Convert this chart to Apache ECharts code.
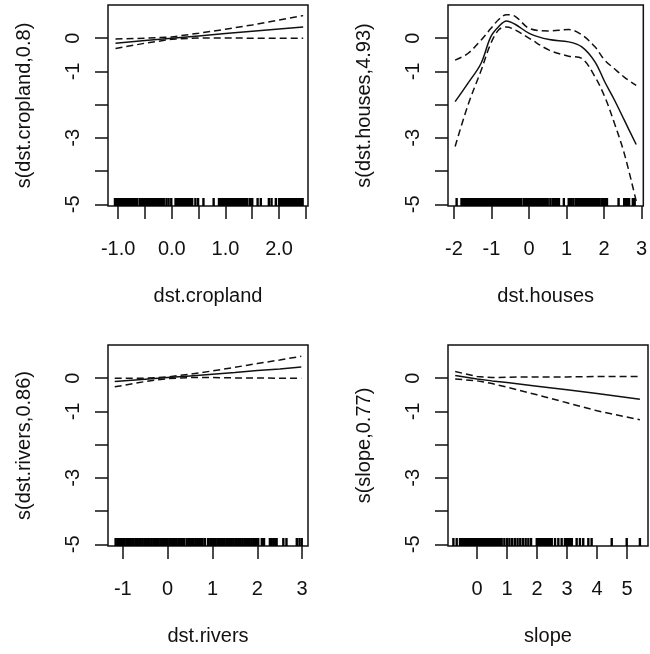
<!DOCTYPE html>
<html>
<head>
<meta charset="utf-8">
<script src="https://cdn.jsdelivr.net/npm/echarts@6/dist/echarts.min.js"></script>
<style>
  html, body { margin: 0; padding: 0; background: #fff; }
  #chart { width: 650px; height: 654px; }
</style>
</head>
<body>
<div id="chart"></div>
<script>
// Shared y scale of the smooth-term plots
const yMin = -5.05, yMax = 1.0;
const yTicks = [-5, -4, -3, -2, -1, 0];
const yTickLabels = [-5, -3, -1, 0];

// s(dst.cropland, 0.8)
const cropX     = [-1.05, -0.5, 0.0, 0.5, 1.0, 1.5, 2.0, 2.45];
const cropFit   = [-0.15, -0.07, 0.0, 0.07, 0.14, 0.21, 0.28, 0.34];
const cropUpper = [-0.02, 0.0, 0.04, 0.15, 0.27, 0.40, 0.55, 0.68];
const cropLower = [-0.31, -0.15, -0.03, 0.01, 0.01, 0.0, 0.0, 0.0];
const cropTicks = [-1.0, -0.5, 0.0, 0.5, 1.0, 1.5, 2.0, 2.5];
const cropTickLabels = [-1.0, 0.0, 1.0, 2.0];
const cropRug = [-1.06,-1.03,-1.00,-0.97,-0.94,-0.91,-0.88,-0.85,-0.82,-0.79,-0.76,-0.73,-0.70,-0.67,-0.64,
  -0.59,-0.56,-0.53,-0.50,-0.47,-0.44,-0.41,-0.38,-0.35,-0.32,-0.29,-0.26,-0.23,-0.20,-0.17,-0.15,
  -0.10,-0.06,-0.01,
  0.07,0.10,0.13,0.16,0.19,0.22,0.25,0.28,0.31,0.34,0.37,0.38,
  0.44,0.49,0.59,0.78,
  0.88,0.91,0.94,0.97,1.00,1.03,1.06,1.09,1.12,1.15,1.18,1.21,1.24,1.27,1.30,1.33,1.36,1.39,1.41,
  1.46,1.50,1.60,1.66,1.81,1.86,1.94,2.00,
  2.03,2.06,2.09,2.12,2.15,2.18,2.21,2.24,2.27,2.30,2.33,2.36,2.39,2.41,
  2.44];

// s(dst.houses, 4.93)
const housesX     = [-1.97, -1.63, -1.28, -1.02, -0.80, -0.60, -0.37, 0.02, 0.54, 1.06, 1.41, 1.76, 2.02, 2.28, 2.54, 2.86];
const housesFit   = [-1.91, -1.36, -0.76, 0.04, 0.36, 0.52, 0.42, 0.14, -0.04, -0.11, -0.26, -0.71, -1.31, -1.86, -2.46, -3.2];
const housesUpper = [-0.66, -0.46, -0.06, 0.29, 0.57, 0.71, 0.66, 0.29, 0.22, 0.26, 0.10, -0.26, -0.66, -0.92, -1.17, -1.42];
const housesLower = [-3.26, -2.02, -0.98, -0.16, 0.26, 0.34, 0.25, -0.01, -0.36, -0.54, -0.61, -1.16, -1.76, -2.56, -3.46, -4.9];
const housesTicks = [-2, -1, 0, 1, 2, 3];
const housesTickLabels = [-2, -1, 0, 1, 2, 3];
const housesRug = [-1.93,
  -1.80,-1.76,-1.72,-1.68,-1.64,-1.60,-1.56,-1.52,-1.48,-1.44,-1.40,-1.36,-1.32,-1.28,-1.24,-1.20,-1.16,-1.12,-1.08,-1.04,
  -1.00,-0.96,-0.92,-0.88,-0.84,-0.80,-0.76,-0.72,-0.68,-0.64,-0.60,-0.56,-0.52,-0.48,-0.44,-0.40,-0.36,-0.32,-0.28,-0.24,-0.20,
  -0.13,-0.09,-0.05,-0.01,0.03,0.07,0.11,0.15,0.19,0.23,0.27,0.31,0.35,0.39,0.43,0.47,0.50,
  0.57,0.63,0.67,0.71,0.75,0.80,0.93,1.06,1.10,1.14,1.19,
  1.26,1.30,1.34,1.38,1.42,1.46,1.50,1.54,1.58,1.62,1.66,1.70,1.74,1.78,1.82,1.87,
  1.93,1.97,2.01,2.05,2.08,
  2.39,2.54,2.58,2.62,2.67,2.77,2.82];

// s(dst.rivers, 0.86)
const riversX     = [-1.18, -0.5, 0.0, 0.5, 1.0, 1.5, 2.0, 2.5, 2.98];
const riversFit   = [-0.10, -0.03, 0.02, 0.07, 0.12, 0.17, 0.23, 0.28, 0.34];
const riversUpper = [0.0, 0.0, 0.04, 0.12, 0.22, 0.33, 0.44, 0.55, 0.66];
const riversLower = [-0.26, -0.10, -0.01, 0.02, 0.02, 0.01, 0.01, 0.0, 0.0];
const riversTicks = [-1, 0, 1, 2, 3];
const riversTickLabels = [-1, 0, 1, 2, 3];
const riversRug = [-1.16,-1.12,-1.08,-1.04,-1.00,-0.96,-0.92,-0.88,-0.84,-0.80,-0.76,-0.72,-0.68,-0.64,-0.60,-0.56,-0.52,
  -0.48,-0.44,-0.40,-0.36,-0.32,-0.28,-0.24,-0.20,-0.16,-0.12,-0.08,-0.04,0.00,0.04,0.08,0.12,0.16,0.20,0.24,0.28,0.32,0.36,
  0.42,0.46,
  0.50,0.54,0.58,0.62,0.66,0.70,0.74,0.78,0.83,
  0.90,
  0.95,0.99,1.03,1.07,1.11,1.15,1.19,1.23,1.27,1.31,1.35,1.39,1.43,1.47,1.51,1.55,1.59,1.63,1.67,1.71,1.75,1.79,1.83,1.87,1.91,1.95,1.99,2.02,
  2.10,2.15,
  2.28,2.32,2.36,2.40,2.43,
  2.58,2.65,2.88,2.94,2.99];

// s(slope, 0.77)
const slopeX     = [-0.73, 0.0, 0.5, 1.0, 2.0, 3.0, 4.0, 5.43];
const slopeFit   = [0.08, -0.02, -0.08, -0.13, -0.24, -0.35, -0.46, -0.63];
const slopeUpper = [0.20, 0.05, 0.02, 0.03, 0.04, 0.04, 0.05, 0.05];
const slopeLower = [-0.02, -0.08, -0.16, -0.27, -0.50, -0.74, -0.98, -1.25];
const slopeTicks = [0, 1, 2, 3, 4, 5];
const slopeTickLabels = [0, 1, 2, 3, 4, 5];
const slopeRug = [-0.79,-0.68,
  -0.57,-0.52,-0.47,-0.42,-0.37,-0.32,-0.27,-0.22,-0.17,-0.12,-0.07,-0.02,0.03,0.08,0.13,0.18,0.23,0.28,0.33,0.38,0.43,0.48,0.53,0.58,0.63,0.68,0.73,0.77,
  0.82,0.91,1.00,1.08,1.17,1.26,1.35,1.44,1.53,1.62,1.71,1.80,
  1.99,2.04,2.09,2.14,2.19,2.24,2.29,2.34,2.39,2.44,2.49,
  2.60,2.71,2.82,
  2.93,2.98,3.03,3.08,3.12,3.16,
  3.32,3.43,3.54,3.71,3.82,
  4.49,4.99,5.43];

const panels = [
  { xName: 'dst.cropland', yName: 's(dst.cropland,0.8)', xMin: -1.19, xMax: 2.54, digits: 1,
    x: cropX, fit: cropFit, upper: cropUpper, lower: cropLower, ticks: cropTicks, labels: cropTickLabels, rug: cropRug,
    grid: { left: 108, top: 5, width: 200, height: 201 } },
  { xName: 'dst.houses', yName: 's(dst.houses,4.93)', xMin: -2.16, xMax: 3.05, digits: 0, smooth: 0.35,
    x: housesX, fit: housesFit, upper: housesUpper, lower: housesLower, ticks: housesTicks, labels: housesTickLabels, rug: housesRug,
    grid: { left: 448, top: 5, width: 200, height: 201 } },
  { xName: 'dst.rivers', yName: 's(dst.rivers,0.86)', xMin: -1.33, xMax: 3.13, digits: 0,
    x: riversX, fit: riversFit, upper: riversUpper, lower: riversLower, ticks: riversTicks, labels: riversTickLabels, rug: riversRug,
    grid: { left: 108, top: 345, width: 200, height: 201 } },
  { xName: 'slope', yName: 's(slope,0.77)', xMin: -0.97, xMax: 5.7, digits: 0,
    x: slopeX, fit: slopeFit, upper: slopeUpper, lower: slopeLower, ticks: slopeTicks, labels: slopeTickLabels, rug: slopeRug,
    grid: { left: 448, top: 345, width: 200, height: 201 } }
];

const FONT = "'Liberation Sans', Arial, sans-serif";
const INK = '#111';
const pairs = (xs, ys) => xs.map((x, i) => [x, ys[i]]);

const grids = [], xAxes = [], yAxes = [], series = [];
panels.forEach((p, i) => {
  grids.push(Object.assign({ show: true, borderColor: INK, borderWidth: 1.5, backgroundColor: '#fff' }, p.grid));
  xAxes.push({
    gridIndex: i, type: 'value', min: p.xMin, max: p.xMax, position: 'bottom',
    axisLine: { show: false, onZero: false },
    axisTick: { show: true, length: 13, inside: false, customValues: p.ticks, lineStyle: { color: INK, width: 1.5 } },
    axisLabel: { show: true, customValues: p.labels, margin: 33, color: INK, fontFamily: FONT, fontSize: 20,
      formatter: v => Number(v).toFixed(p.digits) },
    splitLine: { show: false },
    name: p.xName, nameLocation: 'middle', nameGap: 80,
    nameTextStyle: { color: INK, fontFamily: FONT, fontSize: 20 }
  });
  yAxes.push({
    gridIndex: i, type: 'value', min: yMin, max: yMax, position: 'left',
    axisLine: { show: false, onZero: false },
    axisTick: { show: true, length: 13, customValues: yTicks, lineStyle: { color: INK, width: 1.5 } },
    axisLabel: { show: true, customValues: yTickLabels, rotate: 90, margin: 25, color: INK, fontFamily: FONT, fontSize: 20,
      formatter: v => String(v) },
    splitLine: { show: false },
    name: p.yName, nameLocation: 'middle', nameGap: 74,
    nameTextStyle: { color: INK, fontFamily: FONT, fontSize: 20 }
  });
  const lineBase = { type: 'line', xAxisIndex: i, yAxisIndex: i, showSymbol: false, symbol: 'none',
    smooth: p.smooth || false, animation: false, silent: true };
  series.push(Object.assign({}, lineBase, { data: pairs(p.x, p.fit), lineStyle: { color: INK, width: 1.5 } }));
  series.push(Object.assign({}, lineBase, { data: pairs(p.x, p.upper), lineStyle: { color: INK, width: 1.5, type: [7, 4] } }));
  series.push(Object.assign({}, lineBase, { data: pairs(p.x, p.lower), lineStyle: { color: INK, width: 1.5, type: [7, 4] } }));
  // rug of observed covariate values along the bottom edge
  series.push({
    type: 'custom', xAxisIndex: i, yAxisIndex: i, animation: false, silent: true,
    data: p.rug.map(v => [v, yMin]),
    renderItem: (params, api) => {
      const pt = api.coord([api.value(0), api.value(1)]);
      return { type: 'line', shape: { x1: pt[0], y1: pt[1], x2: pt[0], y2: pt[1] - 8 },
        style: { stroke: '#000', lineWidth: 2.4 } };
    }
  });
});

const chart = echarts.init(document.getElementById('chart'), null, { renderer: 'canvas' });
chart.setOption({ backgroundColor: '#fff', animation: false, grid: grids, xAxis: xAxes, yAxis: yAxes, series: series });
</script>
</body>
</html>
